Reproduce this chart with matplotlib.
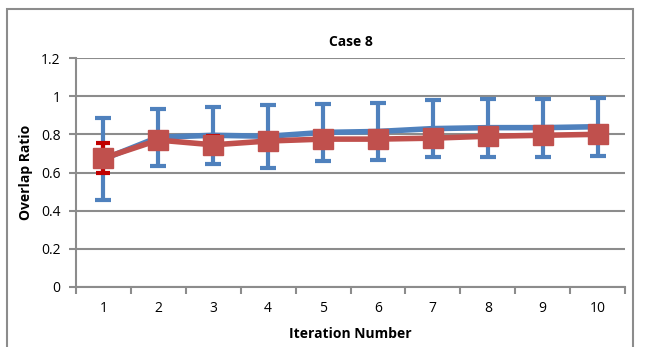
import matplotlib
matplotlib.use("Agg")
import matplotlib.pyplot as plt
from matplotlib.patches import Rectangle

plt.rcParams["font.family"] = ["Open Sans", "DejaVu Sans"]

iterations = [1, 2, 3, 4, 5, 6, 7, 8, 9, 10]
blue_mean = [0.67, 0.785, 0.795, 0.79, 0.81, 0.815, 0.83, 0.835, 0.835, 0.84]
blue_err = [0.215, 0.15, 0.15, 0.165, 0.148, 0.15, 0.15, 0.152, 0.152, 0.152]
red_mean = [0.675, 0.77, 0.745, 0.765, 0.775, 0.775, 0.78, 0.79, 0.795, 0.80]
red_err = [0.08, 0.02, 0.045, 0.02, 0.02, 0.02, 0.02, 0.02, 0.02, 0.02]
yticks = [0, 0.2, 0.4, 0.6, 0.8, 1, 1.2]
ytick_labels = ["0", "0.2", "0.4", "0.6", "0.8", "1", "1.2"]

BLUE = "#4f81bd"
RED = "#c0504d"
GRID = "#8c8c8c"

W, H = 645, 347
fig = plt.figure(figsize=(W / 100, H / 100), dpi=100)
# outer chart frame
fig.patches.append(Rectangle((7 / W, -0.05), (633 - 7) / W, 1 - 9 / H + 0.05,
                             transform=fig.transFigure, fill=False,
                             ec=GRID, lw=1.5))

ax = fig.add_axes([76 / W, 1 - 287 / H, (625 - 76) / W, (287 - 58) / H])

ax.errorbar(iterations, blue_mean, yerr=blue_err, color=BLUE, lw=4,
            elinewidth=3, capsize=6, capthick=3, zorder=3)
ax.errorbar(iterations, red_mean, yerr=red_err, color=RED, ecolor="#c00000",
            lw=4, elinewidth=3, capsize=5, capthick=3,
            marker="s", ms=14, mfc=RED, mec=RED, zorder=4)

ax.set_xlim(0.5, 10.5)
ax.set_ylim(0, 1.2)
ax.set_yticks(yticks)
ax.set_yticklabels(ytick_labels)
ax.set_xticks(iterations)
ax.set_xticks([i + 0.5 for i in range(0, 11)], minor=True)
ax.tick_params(axis="x", which="major", length=0, pad=10, labelsize=10)
ax.tick_params(axis="x", which="minor", length=5, color=GRID, width=1.5, direction="out")
ax.tick_params(axis="y", length=5, color=GRID, width=1.5, labelsize=10, pad=6)

ax.grid(axis="y", color=GRID, lw=1.5, zorder=0)
ax.set_axisbelow(True)
for s in ("top", "right"):
    ax.spines[s].set_visible(False)
for s in ("left", "bottom"):
    ax.spines[s].set_color(GRID)
    ax.spines[s].set_linewidth(1.5)

ax.set_title("Case 8", fontsize=10, fontweight="bold", pad=9)
ax.set_xlabel("Iteration Number", fontsize=10, fontweight="bold", labelpad=8)
ax.set_ylabel("Overlap Ratio", fontsize=10, fontweight="bold", labelpad=6)

fig.savefig("out.png", dpi=100)
